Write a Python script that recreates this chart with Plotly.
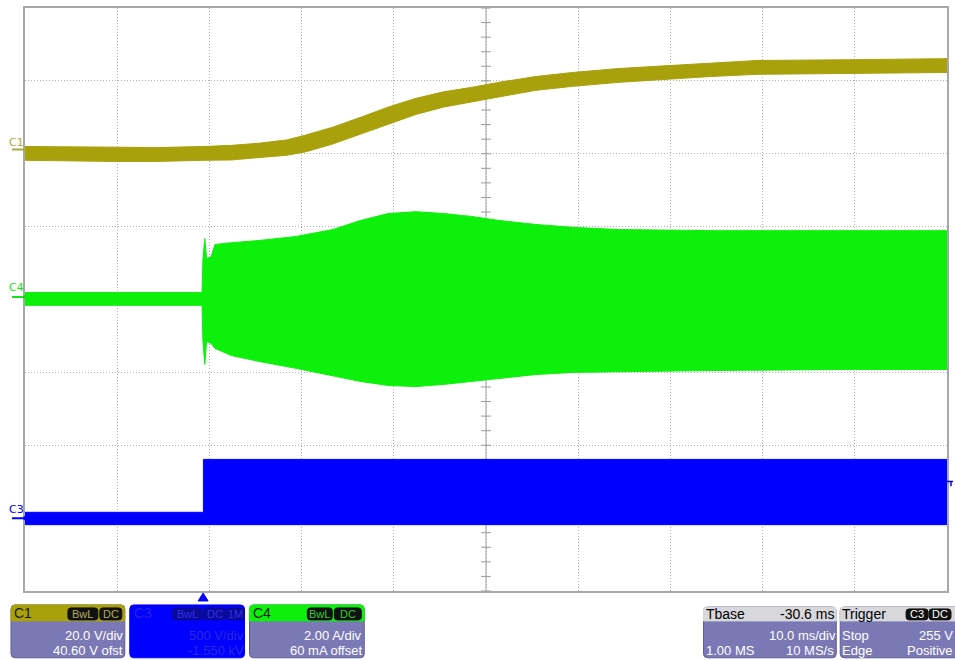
import plotly.graph_objects as go

# ---------------- data ----------------
# time in ms relative to trigger
t_c1 = [-19.4, -10, -5, 0, 3, 6, 9, 11, 14, 17, 20, 23, 26, 29, 32, 36, 40, 45, 50, 55, 60, 70, 80.6]
c1_upper = [1.4, 1.1, 1.1, 1.4, 1.7, 2.3, 3.2, 4.5, 6.7, 9.4, 12.2, 14.6, 16.4, 17.6, 19.0, 20.6, 21.7, 22.8, 23.6, 24.4, 25.0, 25.2, 25.5]
c1_lower = [-2.4, -2.7, -2.7, -2.4, -2.3, -1.7, -1.0, -0.1, 2.1, 4.8, 7.6, 10.2, 12.2, 13.6, 15.0, 16.8, 17.9, 19.0, 19.8, 20.6, 21.2, 21.4, 21.7]

t_c4 = [-19.4, -0.2, -0.1, 0.1, 0.3, 0.8, 1.2, 3, 6, 10, 14, 17, 20, 23, 26, 29, 32, 36, 40, 45, 55, 70, 80.6]
c4_upper = [0.13, 0.13, 1.06, 1.61, 1.06, 1.12, 1.45, 1.50, 1.56, 1.67, 1.86, 2.11, 2.30, 2.35, 2.30, 2.22, 2.11, 2.00, 1.92, 1.86, 1.83, 1.83, 1.83]
c4_lower = [-0.22, -0.22, -1.21, -1.84, -1.21, -1.27, -1.40, -1.60, -1.76, -1.95, -2.15, -2.31, -2.42, -2.45, -2.39, -2.31, -2.23, -2.12, -2.06, -2.04, -2.01, -1.98, -1.98]

t_c3 = [-19.4, -0.05, -0.05, 80.6]
c3_upper = [90, 90, 453, 453]
c3_lower = [5, 5, 5, 5]

# channel settings (per division / offset)
c1_scale, c1_offset = 20.0, 40.60     # V/div, V
c4_scale, c4_offset = 2.00, 0.060     # A/div, A
c3_scale, c3_offset = 500.0, -1550.0  # V/div, V
t_left, t_div, n_xdiv, n_ydiv = -19.4, 10.0, 10, 8

C1_COL = "#A9A10B"
C4_COL = "#0CF00C"
C3_COL = "#0000FF"
BODY = "#7B79B5"
GRID = "#B0B0B0"

W, H = 955, 660
L, R, T, B = 25, 6, 6, 69
PW, PH = W - L - R, H - T - B
ROW1, ROW2 = 636, 651


def X(px):
    return (px - L) / PW


def Y(py):
    return (H - B - py) / PH


def ch_range(scale, offset):
    return [-n_ydiv / 2 * scale - offset, n_ydiv / 2 * scale - offset]


fig = go.Figure()

t_right = t_left + n_xdiv * t_div
t_center = t_left + n_xdiv / 2 * t_div

# minor ticks on centre axes
fig.add_trace(go.Scatter(
    x=[t_center] * (n_ydiv * 5 + 1), y=[-n_ydiv / 2 + i * 0.2 for i in range(n_ydiv * 5 + 1)],
    mode="markers", marker=dict(symbol="line-ew", size=7, line=dict(color="#9a9a9a", width=1)),
    hoverinfo="skip", showlegend=False))
fig.add_trace(go.Scatter(
    x=[t_left + i * t_div / 5 for i in range(n_xdiv * 5 + 1)], y=[0] * (n_xdiv * 5 + 1),
    mode="markers", marker=dict(symbol="line-ns", size=7, line=dict(color="#9a9a9a", width=1)),
    hoverinfo="skip", showlegend=False))


def band(t, up, lo, col, ax):
    fig.add_trace(go.Scatter(
        x=list(t) + list(t)[::-1], y=list(up) + list(lo)[::-1],
        fill="toself", fillcolor=col, line=dict(color=col, width=1),
        mode="lines", yaxis=ax, hoverinfo="skip", showlegend=False))


band(t_c1, c1_upper, c1_lower, C1_COL, "y2")
band(t_c4, c4_upper, c4_lower, C4_COL, "y3")
band(t_c3, c3_upper, c3_lower, C3_COL, "y4")

shapes = []
annotations = []

# centre vertical solid line
shapes.append(dict(type="line", xref="x", yref="paper", x0=t_center, x1=t_center, y0=0, y1=1,
                   line=dict(color="#A0A0A0", width=1), layer="below"))


def rpath(x0, y0, x1, y1, r, top_only=False):
    rb = 0 if top_only else r
    p = f"M {X(x0 + r)},{Y(y0)} L {X(x1 - r)},{Y(y0)} Q {X(x1)},{Y(y0)} {X(x1)},{Y(y0 + r)} "
    p += f"L {X(x1)},{Y(y1 - rb)} "
    if rb:
        p += f"Q {X(x1)},{Y(y1)} {X(x1 - rb)},{Y(y1)} "
    p += f"L {X(x0 + rb)},{Y(y1)} "
    if rb:
        p += f"Q {X(x0)},{Y(y1)} {X(x0)},{Y(y1 - rb)} "
    p += f"L {X(x0)},{Y(y0 + r)} Q {X(x0)},{Y(y0)} {X(x0 + r)},{Y(y0)} Z"
    return p


def rect(x0, y0, x1, y1, color, r=4, top_only=False, line=None):
    shapes.append(dict(type="path", xref="paper", yref="paper", path=rpath(x0, y0, x1, y1, r, top_only),
                       fillcolor=color, line=dict(color=line or color, width=1), layer="above"))


def text(x, y, s, color="white", anchor="left", size=13, family="Liberation Sans, Arial"):
    annotations.append(dict(xref="paper", yref="paper", x=X(x), y=Y(y), text=s, showarrow=False,
                            xanchor=anchor, yanchor="middle", borderpad=0,
                            font=dict(color=color, size=size, family=family)))


# ---- C1 box
rect(11, 605, 125, 658, BODY, line="#5e5c92")
rect(11, 605, 125, 621, C1_COL, top_only=True)
text(13, 613, "C1", "#1a1a00", size=14)
rect(68, 608, 98, 620, "#111111", r=3)
text(83, 614, "BwL", "#B5AE5A", "center", 11)
rect(100, 608, 122, 620, "#111111", r=3)
text(111, 614, "DC", "#B5AE5A", "center", 11)
text(124, ROW1, "20.0 V/div", anchor="right")
text(124, ROW2, "40.60 V ofst", anchor="right")

# ---- C3 box
rect(130, 605, 245, 658, C3_COL)
text(133, 613, "C3", "#2424D8", size=14)
rect(173, 608, 203, 620, "#0A0A9A", r=3)
text(188, 614, "BwL", "#3030E0", "center", 11)
rect(204, 608, 226, 620, "#0A0A9A", r=3)
text(215, 614, "DC", "#3030E0", "center", 11)
rect(227, 608, 245, 620, "#0A0A9A", r=3)
text(236, 614, "1M", "#3030E0", "center", 11)
text(245, ROW1, "500 V/div", "#2A2AD8", anchor="right")
text(245, ROW2, "-1.550 kV", "#2A2AD8", anchor="right")

# ---- C4 box
rect(250, 605, 365, 658, BODY, line="#5e5c92")
rect(250, 605, 365, 621, C4_COL, top_only=True)
text(252, 613, "C4", "#002000", size=14)
rect(308, 608, 333, 620, "#111111", r=3)
text(320.5, 614, "BwL", "#30D030", "center", 11)
rect(335, 608, 362, 620, "#111111", r=3)
text(348.5, 614, "DC", "#30D030", "center", 11)
text(364, ROW1, "2.00 A/div", anchor="right")
text(364, ROW2, "60 mA offset", anchor="right")

# ---- Timebase box
rect(705, 607, 838, 658, BODY, line="#5e5c92")
rect(705, 607, 838, 621, "#D8D8DC", top_only=True)
text(706, 614, "Tbase", "black", size=14)
text(837, 614, "-30.6 ms", "black", "right", size=14)
text(839, ROW1, "10.0 ms/div", anchor="right")
text(706, ROW2, "1.00 MS")
text(837, ROW2, "10 MS/s", anchor="right")

# ---- Trigger box
rect(842, 607, 962, 658, BODY, line="#5e5c92")
rect(842, 607, 962, 621, "#D8D8DC", top_only=True)
text(843, 614, "Trigger", "black", size=14)
rect(908, 609, 930, 620, "#111111", r=3)
text(919, 614.5, "C3", "white", "center", 11)
rect(931, 609, 953, 620, "#111111", r=3)
text(942, 614.5, "DC", "white", "center", 11)
text(843, ROW1, "Stop")
text(956, ROW1, "255 V", anchor="right")
text(843, ROW2, "Edge")
text(956, ROW2, "Positive", anchor="right")

# trigger position triangle
shapes.append(dict(type="path", xref="paper", yref="paper",
                   path=f"M {X(203.5)},{Y(593)} L {X(208.5)},{Y(601)} L {X(198.5)},{Y(601)} Z",
                   fillcolor=C3_COL, line=dict(color=C3_COL, width=1), layer="above"))
# trigger level marker on right edge
shapes.append(dict(type="path", xref="paper", yref="paper",
                   path=f"M {X(949)},{Y(481)} L {X(955)},{Y(481)} M {X(953)},{Y(481)} L {X(953)},{Y(486)}",
                   line=dict(color=C3_COL, width=1.5), layer="above"))

# channel ground markers + labels
for lab, col, ylab, yline in [("C1", "#B0A840", 141, 148), ("C4", "#18E018", 286, 296), ("C3", C3_COL, 509, 518)]:
    shapes.append(dict(type="path", xref="paper", yref="paper",
                       path=f"M {X(12)},{Y(yline)} L {X(25)},{Y(yline)} M {X(24.5)},{Y(yline - 2)} L {X(24.5)},{Y(yline + 2)}",
                       line=dict(color=col, width=2), layer="above"))
    text(16, ylab, lab, col, "center", 11, "DejaVu Sans")

fig.update_layout(
    width=W, height=H,
    margin=dict(l=L, r=R, t=T, b=B, pad=0),
    paper_bgcolor="white", plot_bgcolor="white",
    showlegend=False,
    xaxis=dict(range=[t_left, t_right], tick0=t_left, dtick=t_div, showgrid=True, gridcolor=GRID,
               griddash="1px,2px", gridwidth=1, zeroline=False, showticklabels=False, ticks="",
               showline=True, mirror=True, linecolor="#A8A8A8", linewidth=2, fixedrange=True),
    yaxis=dict(range=[-n_ydiv / 2, n_ydiv / 2], dtick=1, showgrid=True, gridcolor=GRID,
               griddash="1px,2px", gridwidth=1, zeroline=True, zerolinecolor="#A0A0A0", zerolinewidth=1,
               showticklabels=False, ticks="", showline=True, mirror=True, linecolor="#A8A8A8",
               linewidth=2, fixedrange=True),
    yaxis2=dict(range=ch_range(c1_scale, c1_offset), overlaying="y", visible=False, fixedrange=True),
    yaxis3=dict(range=ch_range(c4_scale, c4_offset), overlaying="y", visible=False, fixedrange=True),
    yaxis4=dict(range=ch_range(c3_scale, c3_offset), overlaying="y", visible=False, fixedrange=True),
    shapes=shapes,
    annotations=annotations,
)

fig.write_html("out.html", config={"displayModeBar": False},
               post_script="document.body.style.margin='0';document.body.style.overflow='hidden';")
